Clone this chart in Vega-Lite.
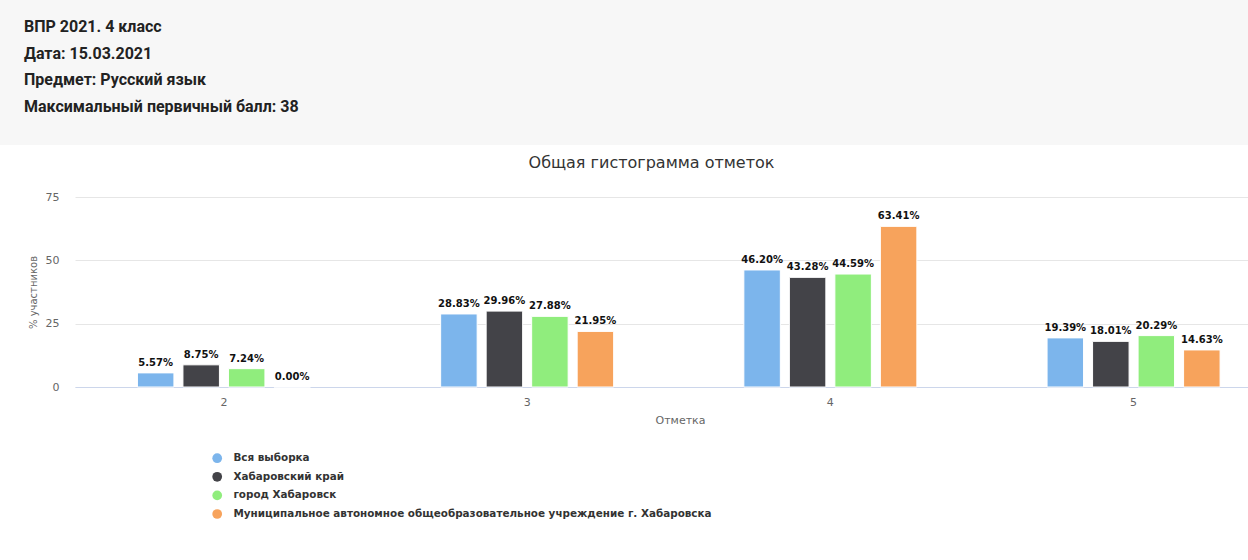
{
  "$schema": "https://vega.github.io/schema/vega-lite/v6.json",
  "padding": 0,
  "background": "white",
  "spacing": 10,
  "config": {
    "view": {"stroke": null},
    "font": "DejaVu Sans",
    "locale": {"number": {"decimal": ".", "thousands": ",", "grouping": [3], "currency": ["", "%"]}}
  },
  "datasets": {
    "header": [
      {"row": 1, "line": "ВПР 2021. 4 класс"},
      {"row": 2, "line": "Дата: 15.03.2021"},
      {"row": 3, "line": "Предмет: Русский язык"},
      {"row": 4, "line": "Максимальный первичный балл: 38"}
    ],
    "grades": [
      {"mark": "2", "group": "Вся выборка", "pct": 5.57},
      {"mark": "2", "group": "Хабаровский край", "pct": 8.75},
      {"mark": "2", "group": "город Хабаровск", "pct": 7.24},
      {"mark": "2", "group": "Муниципальное автономное общеобразовательное учреждение г. Хабаровска", "pct": 0.0},
      {"mark": "3", "group": "Вся выборка", "pct": 28.83},
      {"mark": "3", "group": "Хабаровский край", "pct": 29.96},
      {"mark": "3", "group": "город Хабаровск", "pct": 27.88},
      {"mark": "3", "group": "Муниципальное автономное общеобразовательное учреждение г. Хабаровска", "pct": 21.95},
      {"mark": "4", "group": "Вся выборка", "pct": 46.2},
      {"mark": "4", "group": "Хабаровский край", "pct": 43.28},
      {"mark": "4", "group": "город Хабаровск", "pct": 44.59},
      {"mark": "4", "group": "Муниципальное автономное общеобразовательное учреждение г. Хабаровска", "pct": 63.41},
      {"mark": "5", "group": "Вся выборка", "pct": 19.39},
      {"mark": "5", "group": "Хабаровский край", "pct": 18.01},
      {"mark": "5", "group": "город Хабаровск", "pct": 20.29},
      {"mark": "5", "group": "Муниципальное автономное общеобразовательное учреждение г. Хабаровска", "pct": 14.63}
    ]
  },
  "vconcat": [
    {
      "width": 1248,
      "height": 145,
      "view": {"fill": "#f7f7f7", "stroke": null},
      "data": {"name": "header"},
      "mark": {"type": "text", "align": "left", "baseline": "middle", "font": "Roboto", "fontWeight": "bold", "fontSize": 16, "color": "#222", "dx": 24},
      "encoding": {
        "x": {"datum": 0, "type": "quantitative", "scale": {"domain": [0, 1], "nice": false, "zero": false}, "axis": null},
        "y": {"field": "row", "type": "ordinal", "axis": null, "scale": {"type": "point", "range": [27, 107], "padding": 0}},
        "text": {"field": "line"}
      }
    },
    {
      "spacing": 27,
      "hconcat": [
        {
          "width": 1,
          "height": 1,
          "data": {"values": []},
          "mark": {"type": "rule"},
          "encoding": {}
        },
        {
          "width": 1173,
          "height": 190,
          "title": {"text": "Общая гистограмма отметок", "fontSize": 16, "fontWeight": "normal", "color": "#333", "font": "DejaVu Sans", "offset": 20, "dx": -10},
          "data": {"name": "grades"},
          "encoding": {
            "x": {
              "field": "mark", "type": "ordinal", "title": "Отметка",
              "scale": {"paddingInner": 0.4294, "paddingOuter": 0.149, "align": 0.691},
              "axis": {"labelAngle": 0, "labelFontSize": 11, "labelColor": "#666", "labelPadding": 9, "ticks": false, "tickSize": 0, "domainColor": "#ccd6eb", "titleFontSize": 11, "titleFontWeight": "normal", "titleColor": "#666", "titlePadding": 7, "titleX": 605, "grid": false}
            },
            "xOffset": {
              "field": "group", "type": "nominal",
              "sort": ["Вся выборка", "Хабаровский край", "город Хабаровск", "Муниципальное автономное общеобразовательное учреждение г. Хабаровска"],
              "scale": {"paddingInner": 0.198, "paddingOuter": 0}
            },
            "y": {
              "field": "pct", "type": "quantitative",
              "scale": {"domain": [0, 75], "nice": false},
              "axis": {"values": [0, 25, 50, 75], "title": "% участников", "titleFontSize": 10, "titleFontWeight": "normal", "titleColor": "#666", "titlePadding": 7, "labelFontSize": 11, "labelColor": "#666", "labelPadding": 16, "ticks": false, "tickSize": 0, "domain": false, "grid": true, "gridColor": "#e6e6e6"}
            }
          },
          "layer": [
            {
              "mark": {"type": "bar", "stroke": "white", "strokeWidth": 1},
              "encoding": {
                "color": {
                  "field": "group", "type": "nominal",
                  "scale": {
                    "domain": ["Вся выборка", "Хабаровский край", "город Хабаровск", "Муниципальное автономное общеобразовательное учреждение г. Хабаровска"],
                    "range": ["#7cb5ec", "#434348", "#90ed7d", "#f7a35c"]
                  },
                  "legend": {"orient": "none", "legendX": 212, "legendY": 453, "direction": "vertical", "title": null, "symbolType": "circle", "symbolSize": 95, "symbolStrokeWidth": 0, "labelFontSize": 10.4, "labelFontWeight": "bold", "labelColor": "#333", "labelLimit": 700, "rowPadding": 7.6, "labelOffset": 11, "padding": 0}
                }
              }
            },
            {
              "mark": {"type": "text", "baseline": "middle", "dy": -10, "fontWeight": "bold", "fontSize": 10, "color": "#111"},
              "encoding": {"text": {"field": "pct", "type": "quantitative", "format": "$.2f"}}
            }
          ]
        }
      ]
    }
  ]
}
